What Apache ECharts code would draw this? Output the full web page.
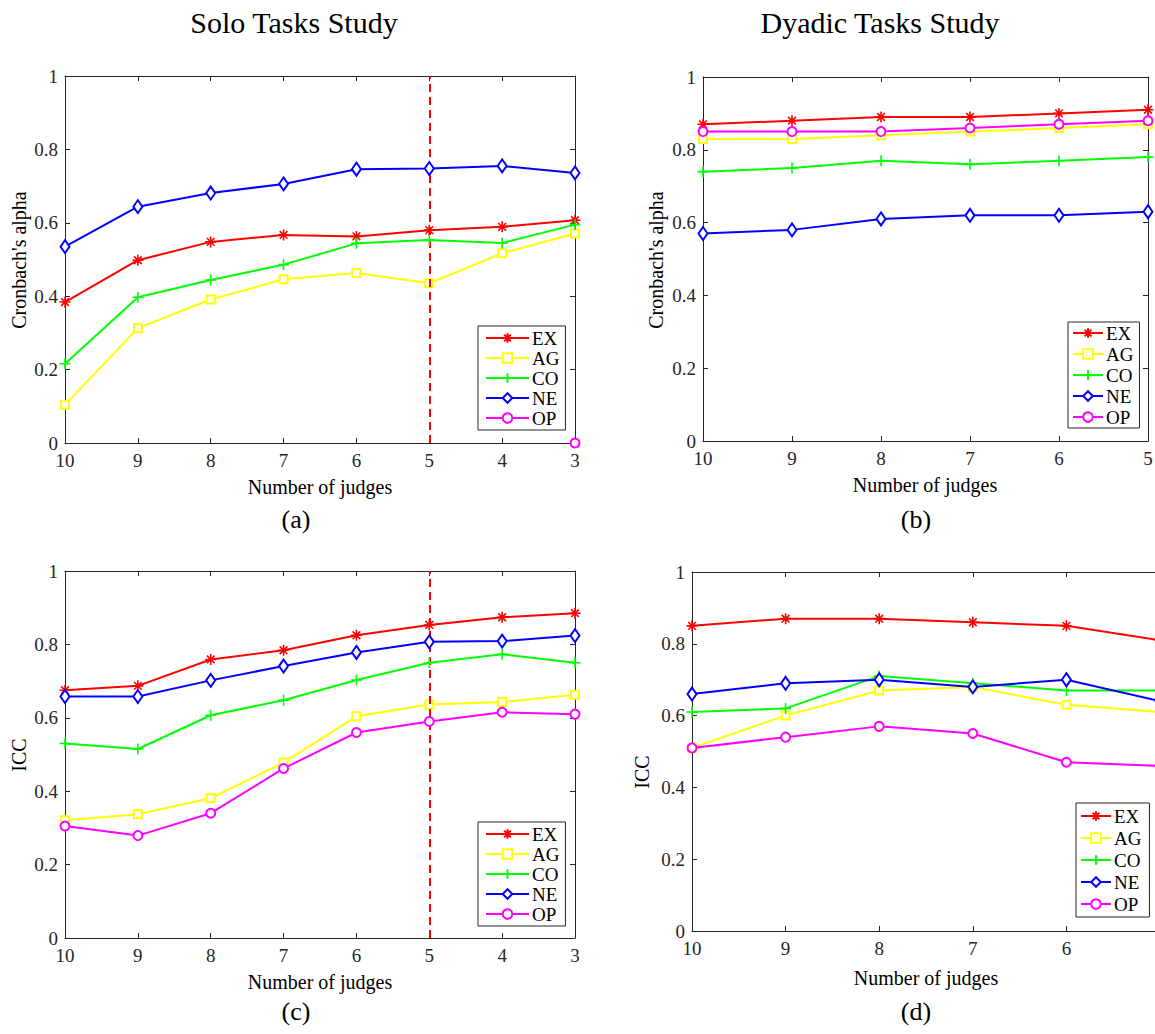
<!DOCTYPE html>
<html>
<head>
<meta charset="utf-8">
<script src="https://cdn.jsdelivr.net/npm/echarts@6/dist/echarts.min.js"></script>
<style>
  html, body { margin: 0; padding: 0; background: #fff; overflow: hidden; }
  #chart { width: 1170px; height: 1034px; }
</style>
</head>
<body>
<div id="chart"></div>
<script>
// ── Data ──────────────────────────────────────────────────────────────────────

const judgesSolo   = [10, 9, 8, 7, 6, 5, 4, 3];
const judgesDyadic = [10, 9, 8, 7, 6, 5];
const yTicks = [0, 0.2, 0.4, 0.6, 0.8, 1];
const traits = ['EX', 'AG', 'CO', 'NE', 'OP'];

// (a) Solo, Cronbach's alpha
const alphaSoloEX = [0.384, 0.498, 0.548, 0.567, 0.563, 0.580, 0.589, 0.607];
const alphaSoloAG = [0.104, 0.313, 0.391, 0.446, 0.463, 0.435, 0.517, 0.571];
const alphaSoloCO = [0.216, 0.397, 0.444, 0.486, 0.544, 0.553, 0.545, 0.595];
const alphaSoloNE = [0.535, 0.644, 0.681, 0.706, 0.746, 0.748, 0.755, 0.736];
const alphaSoloOP = [null, null, null, null, null, null, null, 0];

// (b) Dyadic, Cronbach's alpha
const alphaDyadEX = [0.87, 0.88, 0.89, 0.89, 0.90, 0.91];
const alphaDyadAG = [0.83, 0.83, 0.84, 0.85, 0.86, 0.87];
const alphaDyadCO = [0.74, 0.75, 0.77, 0.76, 0.77, 0.78];
const alphaDyadNE = [0.57, 0.58, 0.61, 0.62, 0.62, 0.63];
const alphaDyadOP = [0.85, 0.85, 0.85, 0.86, 0.87, 0.88];

// (c) Solo, ICC
const iccSoloEX = [0.675, 0.687, 0.759, 0.784, 0.825, 0.853, 0.874, 0.885];
const iccSoloAG = [0.321, 0.337, 0.381, 0.478, 0.604, 0.636, 0.643, 0.663];
const iccSoloCO = [0.530, 0.515, 0.607, 0.648, 0.703, 0.750, 0.773, 0.750];
const iccSoloNE = [0.658, 0.658, 0.702, 0.741, 0.778, 0.807, 0.809, 0.824];
const iccSoloOP = [0.305, 0.279, 0.340, 0.462, 0.560, 0.590, 0.615, 0.610];

// (d) Dyadic, ICC
const iccDyadEX = [0.85, 0.87, 0.87, 0.86, 0.85, 0.81];
const iccDyadAG = [0.51, 0.60, 0.67, 0.68, 0.63, 0.61];
const iccDyadCO = [0.61, 0.62, 0.71, 0.69, 0.67, 0.67];
const iccDyadNE = [0.66, 0.69, 0.70, 0.68, 0.70, 0.64];
const iccDyadOP = [0.51, 0.54, 0.57, 0.55, 0.47, 0.46];

// ── Styles ────────────────────────────────────────────────────────────────────

const FONT = '"Liberation Serif", "Times New Roman", serif';
const INK  = '#262626';

const ASTERISK = 'path://M0,-10L0,10M-10,0L10,0M-7,-7L7,7M-7,7L7,-7';
const PLUS     = 'path://M0,-10L0,10M-10,0L10,0';

const traitStyle = {
  EX: { color: '#ff0000', symbol: ASTERISK,       size: 11 },
  AG: { color: '#ffff00', symbol: 'emptyRect',    size: 8 },
  CO: { color: '#00ff00', symbol: PLUS,           size: 11 },
  NE: { color: '#0000ff', symbol: 'emptyDiamond', size: [9, 13] },
  OP: { color: '#ff00ff', symbol: 'emptyCircle',  size: 9 },
};

// panel layout: grid box, x range, legend box
const panels = [
  { grid: { left: 65,  top: 76,  width: 510, height: 367 }, xs: judgesSolo,   min: 3, dash: true,
    series: [alphaSoloEX, alphaSoloAG, alphaSoloCO, alphaSoloNE, alphaSoloOP],
    legend: { left: 478, top: 326, itemWidth: 43, gap: 0, pad: [2, 6, 2, 7] } },
  { grid: { left: 703, top: 77,  width: 445, height: 364 }, xs: judgesDyadic, min: 5, dash: false,
    series: [alphaDyadEX, alphaDyadAG, alphaDyadCO, alphaDyadNE, alphaDyadOP],
    legend: { left: 1068, top: 322, itemWidth: 30, gap: 1, pad: [1, 6, 1, 4] } },
  { grid: { left: 65,  top: 571, width: 510, height: 367 }, xs: judgesSolo,   min: 3, dash: true,
    series: [iccSoloEX, iccSoloAG, iccSoloCO, iccSoloNE, iccSoloOP],
    legend: { left: 478, top: 822, itemWidth: 43, gap: 0, pad: [2, 6, 2, 7] } },
  { grid: { left: 692, top: 572, width: 468, height: 359 }, xs: judgesDyadic, min: 5, dash: false,
    series: [iccDyadEX, iccDyadAG, iccDyadCO, iccDyadNE, iccDyadOP],
    legend: { left: 1076, top: 803, itemWidth: 30, gap: 2, pad: [3, 8, 3, 4] } },
];

// ── Build option ──────────────────────────────────────────────────────────────

const grids = [], xAxes = [], yAxes = [], series = [], legends = [];

panels.forEach((p, gi) => {
  grids.push(p.grid);

  const tick = { show: true, inside: true, length: 5, lineStyle: { color: INK, width: 1 } };
  const line = { show: true, onZero: false, lineStyle: { color: INK, width: 1 } };

  xAxes.push({
    gridIndex: gi, type: 'value', inverse: true, min: p.min, max: 10, interval: 1,
    position: 'bottom', axisLine: line, axisTick: tick, splitLine: { show: false },
    axisLabel: { color: INK, fontFamily: FONT, fontSize: 19, margin: 8 },
  });
  xAxes.push({
    gridIndex: gi, type: 'value', inverse: true, min: p.min, max: 10, interval: 1,
    position: 'top', axisLine: line, axisTick: tick, splitLine: { show: false },
    axisLabel: { show: false },
  });
  yAxes.push({
    gridIndex: gi, type: 'value', min: 0, max: 1, interval: 0.2,
    position: 'left', axisLine: line, axisTick: tick, splitLine: { show: false },
    axisLabel: { color: INK, fontFamily: FONT, fontSize: 19, margin: 7 },
  });
  yAxes.push({
    gridIndex: gi, type: 'value', min: 0, max: 1, interval: 0.2,
    position: 'right', axisLine: line, axisTick: tick, splitLine: { show: false },
    axisLabel: { show: false },
  });

  traits.forEach((t, ti) => {
    const st = traitStyle[t];
    const ys = p.series[ti];
    const data = p.xs.map((x, i) => [x, ys[i] == null ? '-' : ys[i]]);
    const s = {
      type: 'line', name: t, xAxisIndex: gi * 2, yAxisIndex: gi * 2,
      data, symbol: st.symbol, symbolSize: st.size, showSymbol: true,
      clip: true, animation: false, z: 3 + ti,
      lineStyle: { color: st.color, width: 2 },
      itemStyle: { color: st.color, borderColor: st.color, borderWidth: 1.6 },
      emphasis: { disabled: true },
    };
    if (p.dash && t === 'EX') {
      s.markLine = {
        silent: true, symbol: ['none', 'none'], animation: false,
        label: { show: false },
        lineStyle: { color: '#ff0000', type: [8, 5], width: 2 },
        data: [{ xAxis: 5 }],
      };
    }
    series.push(s);
  });

  legends.push({
    left: p.legend.left, top: p.legend.top, orient: 'vertical',
    data: traits, selectedMode: false,
    itemWidth: p.legend.itemWidth, itemHeight: 12, itemGap: p.legend.gap,
    padding: p.legend.pad,
    borderColor: INK, borderWidth: 1, backgroundColor: '#fff',
    textStyle: { fontFamily: FONT, fontSize: 19, color: '#000', lineHeight: 20, padding: [0, 0, 0, -2] },
    z: 10,
  });
});

// titles, axis names and captions
function txt(x, y, text, size, rot) {
  return {
    type: 'text', x, y, rotation: rot || 0, z: 20,
    style: { text, fontFamily: FONT, fontSize: size, fill: '#000', align: 'center', verticalAlign: 'middle' },
  };
}
const KNOWN_LABELS = [
  txt(294, 22, 'Solo Tasks Study', 30),
  txt(880, 22, 'Dyadic Tasks Study', 30),
  txt(320, 487, 'Number of judges', 20),
  txt(925, 485, 'Number of judges', 20),
  txt(320, 982, 'Number of judges', 20),
  txt(926, 978, 'Number of judges', 20),
  txt(19, 260, "Cronbach's alpha", 20, Math.PI / 2),
  txt(656, 260, "Cronbach's alpha", 20, Math.PI / 2),
  txt(19, 755, 'ICC', 20, Math.PI / 2),
  txt(642, 772, 'ICC', 20, Math.PI / 2),
  txt(296, 519, '(a)', 26),
  txt(916, 519, '(b)', 26),
  txt(296, 1011, '(c)', 26),
  txt(916, 1011, '(d)', 26),
];

const chart = echarts.init(document.getElementById('chart'), null, { renderer: 'svg' });
chart.setOption({
  backgroundColor: '#fff',
  animation: false,
  grid: grids,
  xAxis: xAxes,
  yAxis: yAxes,
  legend: legends,
  series,
  graphic: KNOWN_LABELS,
});
</script>
</body>
</html>
